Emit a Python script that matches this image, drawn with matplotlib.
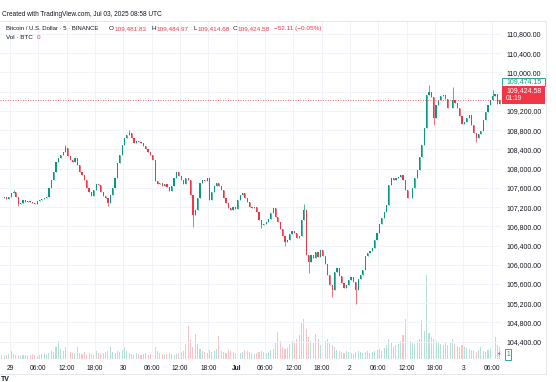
import matplotlib
matplotlib.use("Agg")
import matplotlib.pyplot as plt
import matplotlib.dates as mdates
from matplotlib.patches import Rectangle
import pandas as pd

plt.rcParams['font.family'] = ['Liberation Sans', 'DejaVu Sans']

# BTCUSD (Binance), 30-minute closes, 28 Jun 22:00 -> 3 Jul 07:30 UTC
closes = [
    107390, 107410, 107370, 107410, 107490, 107510, 107410, 107260, 107290, 107350,
    107310, 107330, 107310, 107290, 107260, 107330, 107350, 107370, 107390, 107410,
    107600, 107760, 107930, 108140, 108220, 108280, 108350, 108430, 108260, 108180,
    108140, 108220, 108080, 107930, 107870, 107760, 107600, 107510, 107430, 107560,
    107680, 107660, 107510, 107430, 107390, 107290, 107450, 107600, 107810, 108120,
    108280, 108490, 108640, 108700, 108740, 108640, 108530, 108570, 108550, 108530,
    108470, 108410, 108350, 108280, 108180, 107740, 107680, 107700, 107640, 107680,
    107620, 107530, 107640, 107810, 107930, 107850, 107760, 107680, 107810, 107760,
    107450, 107040, 107140, 107390, 107700, 107760, 107740, 107810, 107350, 107510,
    107640, 107700, 107640, 107560, 107390, 107290, 107180, 107140, 107200, 107160,
    107350, 107450, 107490, 107390, 107310, 107200, 107180, 107200, 107100, 106930,
    106830, 106850, 106890, 106950, 107080, 107180, 106990, 106890, 106740, 106600,
    106470, 106520, 106640, 106700, 106660, 106560, 106600, 106930, 107140, 106200,
    106060, 106200, 106140, 106270, 106160, 106310, 106180, 106020, 105790, 105580,
    105480, 105850, 105930, 105770, 105620, 105520, 105580, 105680, 105750, 105640,
    105480, 105700, 105790, 105890, 106180, 106250, 106290, 106350, 106520, 106660,
    106850, 106970, 107100, 107240, 107660, 107810, 107760, 107810, 107830, 107870,
    107760, 107560, 107390, 107390, 107600, 107810, 107970, 108240, 108490, 108850,
    109530, 109590, 109490, 109050, 109320, 109430, 109510, 109530, 109450, 109260,
    109260, 109430, 109370, 109260, 109090, 108930, 108970, 109050, 109120, 108910,
    108740, 108640, 108720, 108780, 109010, 109180, 109320, 109430, 109510, 109550,
    109340, 109425,
]
first_open = 107380

# the wicks that stick out on the chart {candle index: price}
wick_highs = {5: 107560, 27: 108490, 54: 108800, 128: 107260, 181: 109740, 191: 109700, 208: 109640}
wick_lows = {7: 107220, 45: 107220, 81: 106790, 110: 106770, 120: 106390, 130: 105830,
             140: 105330, 150: 105190, 183: 108910, 201: 108550}

volumes = [
    100, 75, 100, 125, 200, 125, 100, 100, 75, 100, 100, 75, 100, 125, 100, 75, 100, 125, 150, 100,
    150, 200, 175, 300, 450, 250, 200, 300, 200, 175, 150,
    125, 300, 150, 125, 175, 100, 150, 125, 100, 200, 150, 125,
    150, 175, 200, 300, 175, 150, 200, 175, 225, 300, 200, 150,
    125, 100, 150, 125, 100, 125, 150, 100, 125, 175, 300, 200, 150, 125, 100, 125, 150, 125, 100, 125, 150, 175, 200,
    375, 825, 500, 300, 625, 375, 250,
    200, 175, 150, 225, 175, 200, 250,
    575,
    200, 175, 150, 225, 200, 175, 150, 125, 150, 175, 225, 200, 175, 150, 125, 150, 175, 200, 175, 150, 175, 225,
    250, 400, 675, 450, 300, 250, 275,
    375, 450, 400, 500, 600, 925, 1000, 750,
    550, 450, 400, 625, 500, 350, 400, 450, 500, 400, 350, 300,
    225, 200, 175, 150, 200, 175, 150, 125, 175, 200, 175, 150, 175, 200, 150, 175, 200, 225, 250, 200,
    275, 350, 500, 400, 300, 350, 375,
    450, 600, 1000, 550, 450, 400, 375, 450, 500, 975, 700, 2100, 650, 550, 500, 450, 400, 375, 350,
    400, 350, 425, 500, 375, 325, 300, 350, 300, 275, 250,
    225, 200, 175, 225, 300, 200, 175, 225, 250, 275, 550, 350, 300,
]

last_price = 109424.58
marker_price = 109474.15
price_ticks = list(range(104400, 110801, 400))
hidden_ticks = [109600]   # sits under the price boxes on the scale

UP = '#089981'
DOWN = '#f23645'
TXT = '#131722'
W, H = 556, 382

times = pd.date_range('2025-06-28 22:15', periods=len(closes), freq='30min')
x = mdates.date2num(times.to_pydatetime())
opens = [first_open] + closes[:-1]
highs = [max(o, c) for o, c in zip(opens, closes)]
lows = [min(o, c) for o, c in zip(opens, closes)]
bodies = [abs(c - o) for o, c in zip(opens, closes)]
body_bottoms = list(lows)
for i, p in wick_highs.items():
    highs[i] = max(highs[i], p)
for i, p in wick_lows.items():
    lows[i] = min(lows[i], p)
colors = [UP if c >= o else DOWN for o, c in zip(opens, closes)]

fig = plt.figure(figsize=(W / 100, H / 100), dpi=100)
rect = [0, 1 - 359 / H, 501 / W, (359 - 20.5) / H]
vax = fig.add_axes(rect)
ax = fig.add_axes(rect, sharex=vax)
ax.patch.set_visible(False)

# volume underneath, thin and faint
vax.bar(x, volumes, width=0.45 / 48, color=colors, alpha=0.3, linewidth=0)
vax.set_ylim(0, 2100 * 338.5 / 84)
vax.axis('off')

# candles
ax.vlines(x, lows, highs, colors=colors, linewidth=0.5)
ax.bar(x, bodies, bottom=body_bottoms, width=0.5 / 48, color=colors, linewidth=0)
ax.axhline(last_price, color=DOWN, lw=0.6, ls=(0, (1, 2)))

tick_times = pd.date_range('2025-06-29 00:00', '2025-07-03 06:00', freq='6h')
tick_labels = []
for t in tick_times:
    if t.hour == 0:
        tick_labels.append('Jul' if t.day == 1 else str(t.day))
    else:
        tick_labels.append(t.strftime('%H:%M'))
ax.set_xticks(mdates.date2num(tick_times.to_pydatetime()), tick_labels)
for lab in ax.get_xticklabels():
    if lab.get_text() == 'Jul':
        lab.set_fontweight('bold')

ax.set_yticks(price_ticks, ['' if p in hidden_ticks else f'{p:,.2f}' for p in price_ticks])

day0 = mdates.date2num(pd.Timestamp('2025-06-29').to_pydatetime())
ax.set_xlim(day0 - 10 / 113.3, day0 + 491 / 113.3)
ax.set_ylim(110800 - (359 - 34) * 20.8, 110800 + (34 - 20.5) * 20.8)

ax.yaxis.tick_right()
ax.tick_params(axis='y', length=0, pad=3.8, labelsize=5, labelcolor=TXT)
ax.tick_params(axis='x', length=0, pad=4, labelsize=4.8, labelcolor=TXT)
ax.grid(True, color='#f0f3fa', linewidth=0.7)
ax.set_axisbelow(True)
for s in ax.spines.values():
    s.set_visible(False)


def fx(px):
    return px / W


def fy(py):
    return 1 - py / H


# widget frame
fig.add_artist(plt.Line2D([0, fx(546)], [fy(20.5), fy(20.5)], color='#e0e3eb', lw=0.6))
fig.add_artist(plt.Line2D([0, fx(546)], [fy(374), fy(374)], color='#e0e3eb', lw=0.6))
fig.add_artist(plt.Line2D([fx(546), fx(546)], [fy(20.5), fy(374)], color='#e0e3eb', lw=0.6))

# header
fig.text(fx(2), fy(14.5), 'Created with TradingView.com, Jul 03, 2025 08:58 UTC',
         fontsize=4.7, color=TXT, va='center')
legend = [
    (6, 'Bitcoin / U.S. Dollar · 5 · BINANCE', TXT, 4.3),
    (109, 'O', TXT, 4.6), (114, '109,481.83', DOWN, 4.6),
    (151, 'H', TXT, 4.6), (156, '109,484.97', DOWN, 4.6),
    (193, 'L', TXT, 4.6), (197, '109,414.68', DOWN, 4.6),
    (233, 'C', TXT, 4.6), (237, '109,424.58', DOWN, 4.6),
    (274, '\u221252.11 (\u22120.05%)', DOWN, 4.6),
]
for px, s, c, fs in legend:
    fig.text(fx(px), fy(28.3), s, fontsize=fs, color=c, va='center')
fig.text(fx(6), fy(37.8), 'Vol · BTC', fontsize=4.5, color=TXT, va='center')
fig.text(fx(37), fy(37.8), '0', fontsize=4.6, color=DOWN, va='center')

# price labels on the scale
fig.add_artist(Rectangle((fx(502), fy(86)), 43 / W, 8 / H, transform=fig.transFigure,
                         facecolor='white', edgecolor=UP, lw=0.6))
fig.text(fx(506), fy(82), f'{marker_price:,.2f}', fontsize=5, color=UP, va='center')
fig.add_artist(Rectangle((fx(502), fy(104)), 43 / W, 18 / H, transform=fig.transFigure,
                         facecolor=DOWN, edgecolor='none'))
fig.text(fx(506), fy(90.5), f'{last_price:,.2f}', fontsize=5, color='white', va='center')
fig.text(fx(506), fy(98.5), '01:19', fontsize=4.8, color='white', va='center')

# bottom markers
fig.text(fx(499), fy(354), '\u26a1', fontsize=4.5, color='#9c27b0', va='center', ha='center',
         family='DejaVu Sans')
fig.text(fx(508), fy(354.5), '1', fontsize=4.8, color=UP, va='center', ha='center',
         bbox=dict(boxstyle='square,pad=0.25', facecolor='white', edgecolor=UP, lw=0.6))
fig.text(fx(0.5), fy(379.5), 'TV', fontsize=5, fontweight='bold', color=TXT, va='center')

fig.savefig('out.png', dpi=100)
